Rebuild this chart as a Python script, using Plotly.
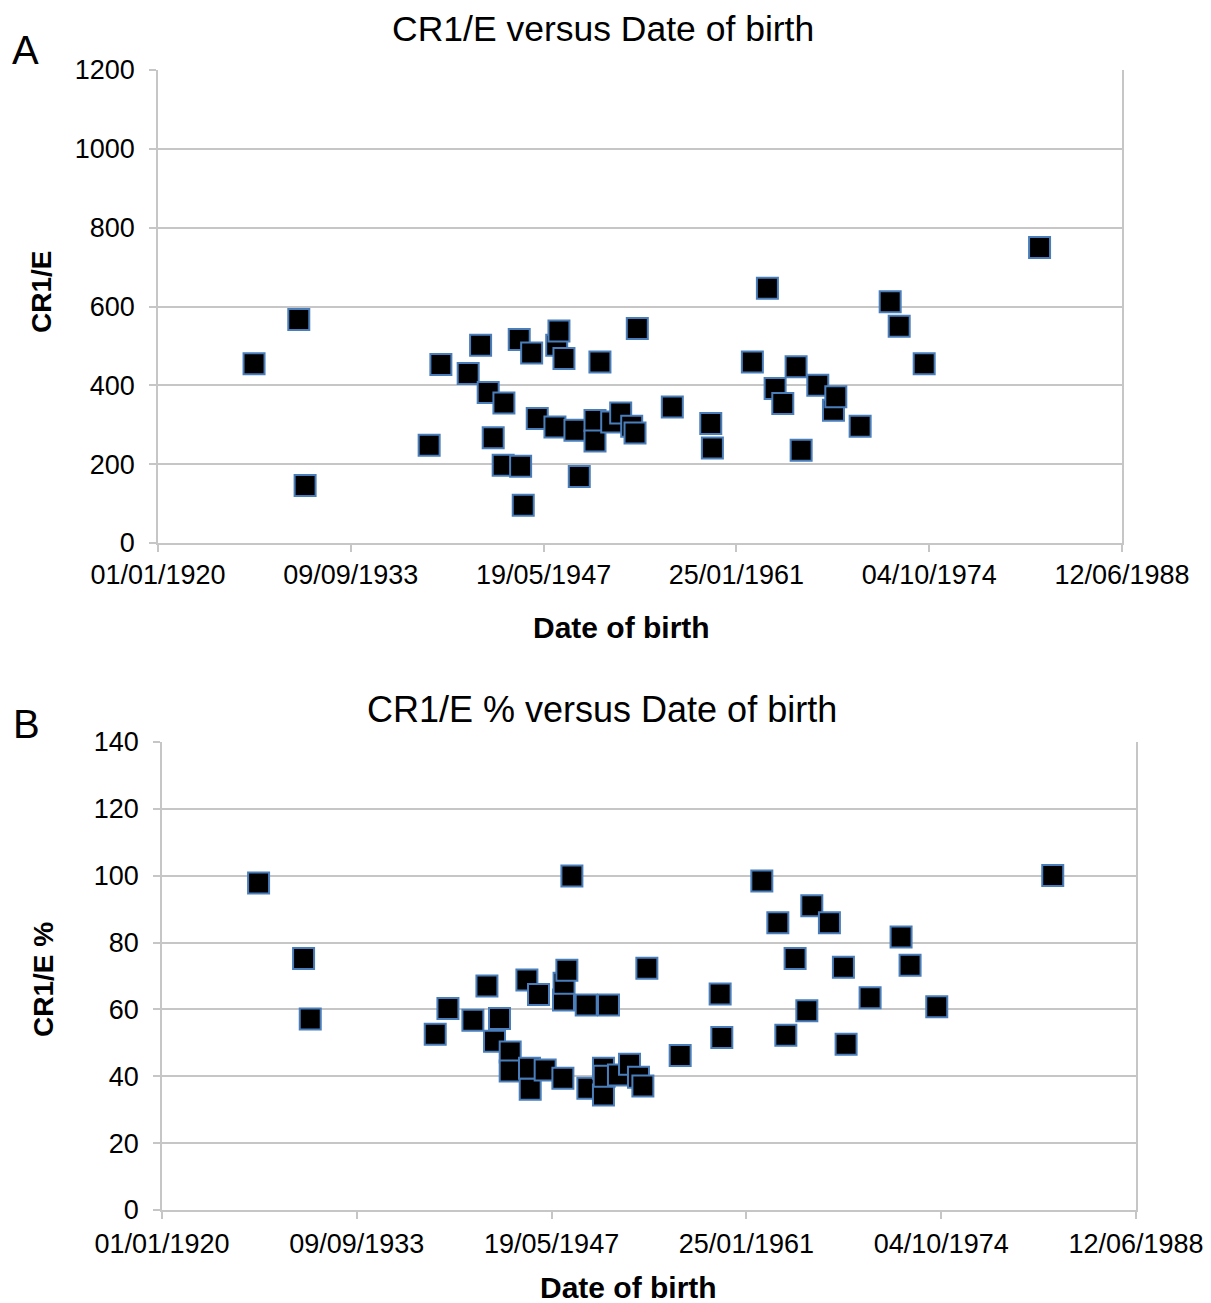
import plotly.graph_objects as go

# Excel-style date serials (days since 1900) and values
dob_a = [9797, 10957, 11121, 14338, 14642, 15350, 15672, 15869, 15999, 16258,
         16277, 16674, 16710, 16778, 16996, 17141, 17600, 17646, 17704, 17834,
         18119, 18231, 18639, 18639, 18767, 19072, 19305, 19591, 19677, 19736,
         20644, 21641, 21683, 22720, 23110, 23310, 23509, 23854, 23985, 24417,
         24823, 24884, 25515, 26294, 26528, 27176, 30168]
cr1e = [455, 567, 146, 248, 453, 430, 502, 382, 267, 197,
        355, 516, 195, 96, 482, 316, 294, 502, 538, 468,
        286, 169, 311, 259, 459, 307, 330, 296, 279, 544,
        345, 303, 241, 459, 646, 392, 354, 447, 235, 400,
        337, 371, 296, 612, 550, 455, 750]

dob_b = [9785, 10940, 11111, 14319, 14645, 15286, 15646, 15841, 15969, 16243,
         16243, 16672, 16739, 16757, 16970, 17141, 17596, 17611, 17626, 17698,
         17827, 18194, 18237, 18637, 18637, 18656, 18766, 19022, 19306, 19536,
         19649, 19751, 20606, 21632, 21675, 22702, 23113, 23318, 23556, 23857,
         23985, 24437, 24796, 24865, 25481, 26276, 26507, 27192, 30169]
cr1e_pct = [97.8, 75.2, 57.1, 52.6, 60.3, 56.8, 67.0, 50.5, 57.3, 47.3,
            41.6, 68.8, 42.4, 36.1, 64.5, 41.9, 39.4, 62.8, 67.8, 71.7,
            99.9, 61.3, 36.4, 34.4, 42.4, 40.0, 61.3, 40.4, 43.6, 39.7,
            37.1, 72.3, 46.2, 64.6, 51.6, 98.4, 85.9, 52.3, 75.2, 59.6,
            91.0, 85.9, 72.6, 49.6, 63.5, 81.7, 73.2, 60.8, 100.1]

x_tickvals = [7306, 12306, 17306, 22306, 27306, 32306]
x_ticktext = ["01/01/1920", "09/09/1933", "19/05/1947", "25/01/1961", "04/10/1974", "12/06/1988"]

OFF = 8  # page body margin
W, H = 1211 - OFF, 1303 - OFF
FONT = "Arial, Liberation Sans, sans-serif"
GRID = "#c6c6c6"
marker = dict(symbol="square", size=21, color="black", line=dict(color="#4a7ebb", width=2))

def px_x(p):
    return (p - OFF) / W

def px_y(p):
    return 1 - (p - OFF) / H

fig = go.Figure()
fig.add_trace(go.Scatter(x=dob_a, y=cr1e, mode="markers", marker=marker, xaxis="x", yaxis="y", showlegend=False))
fig.add_trace(go.Scatter(x=dob_b, y=cr1e_pct, mode="markers", marker=marker, xaxis="x2", yaxis="y2", showlegend=False))

xcommon = dict(range=[7306, 32306], tickvals=x_tickvals, ticktext=x_ticktext, showgrid=False,
               zeroline=False, showline=True, linecolor=GRID, linewidth=1.5, ticks="outside",
               ticklen=7, tickcolor=GRID, tickwidth=1.5, automargin=False,
               tickfont=dict(family=FONT, size=27, color="black"))
ycommon = dict(showgrid=True, gridcolor=GRID, gridwidth=1.5, zeroline=False, showline=True, mirror=True,
               linecolor=GRID, linewidth=1.5, ticks="outside", ticklen=7, tickcolor=GRID, tickwidth=1.5,
               automargin=False, ticklabelstandoff=9, tickfont=dict(family=FONT, size=27, color="black"))

fig.update_layout(
    width=W, height=H, margin=dict(l=0, r=0, t=0, b=0, autoexpand=False),
    paper_bgcolor="white", plot_bgcolor="white",
    xaxis=dict(domain=[px_x(158), px_x(1122)], anchor="y", **xcommon),
    yaxis=dict(domain=[px_y(543), px_y(70)], anchor="x", range=[0, 1200], dtick=200, **ycommon),
    xaxis2=dict(domain=[px_x(162), px_x(1136)], anchor="y2", ticklabelstandoff=2,
                **xcommon),
    yaxis2=dict(domain=[px_y(1210), px_y(742)], anchor="x2", range=[0, 140], dtick=20, **ycommon),
)

annots = [
    dict(text="CR1/E versus Date of birth", x=px_x(603), y=px_y(29), size=35.5),
    dict(text="CR1/E % versus Date of birth", x=px_x(602), y=px_y(709), size=36),
    dict(text="A", x=px_x(25), y=px_y(50), size=40),
    dict(text="B", x=px_x(26), y=px_y(724), size=40),
    dict(text="<b>Date of birth</b>", x=px_x(621), y=px_y(627), size=30),
    dict(text="<b>Date of birth</b>", x=px_x(628), y=px_y(1287), size=30),
]
for a in annots:
    fig.add_annotation(text=a["text"], x=a["x"], y=a["y"], xref="paper", yref="paper",
                       xanchor="center", yanchor="middle", showarrow=False,
                       font=dict(family=FONT, size=a["size"], color="black"))
fig.add_annotation(text="<b>CR1/E</b>", x=px_x(41), y=px_y(292), xref="paper", yref="paper",
                   xanchor="center", yanchor="middle", showarrow=False, textangle=-90,
                   font=dict(family=FONT, size=28, color="black"))
fig.add_annotation(text="<b>CR1/E %</b>", x=px_x(43), y=px_y(980), xref="paper", yref="paper",
                   xanchor="center", yanchor="middle", showarrow=False, textangle=-90,
                   font=dict(family=FONT, size=28, color="black"))

fig.write_html("out.html")
